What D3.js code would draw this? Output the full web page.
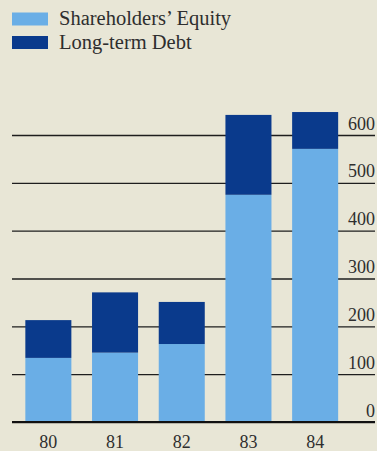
<!DOCTYPE html>
<html>
<head>
<meta charset="utf-8">
<script src="https://cdn.jsdelivr.net/npm/d3@7"></script>
<style>
  html, body { margin: 0; padding: 0; background: #e8e6d6; }
  svg { display: block; }
  text { font-family: "Liberation Serif", "DejaVu Serif", serif; fill: #2e2e2e; }
</style>
</head>
<body>
<svg id="chart" width="377" height="451"></svg>
<script>
// Capitalization by year, in millions
const years = ["80", "81", "82", "83", "84"];
const equity = [134, 145, 163, 475, 571];
const debt = [79, 126, 88, 167, 77];
const yTicks = [0, 100, 200, 300, 400, 500, 600];
const seriesNames = ["Shareholders\u2019 Equity", "Long-term Debt"];
const seriesColors = ["#6aaee6", "#0a3a8c"];

const svg = d3.select("#chart");
const W = 377;

const x = d3.scaleBand()
  .domain(years)
  .range([15, 348.5])
  .paddingInner(0.31)
  .paddingOuter(0.155);

const y = d3.scaleLinear()
  .domain([0, 600])
  .range([422, 135]);

// Gridlines with values sitting just above each line, right-aligned
const gridLeft = 12, gridRight = 375;
const axis = d3.axisRight(y)
  .tickValues(yTicks)
  .tickSize(gridRight - gridLeft)
  .tickFormat(d3.format("d"));

const ag = svg.append("g")
  .attr("transform", `translate(${gridLeft},0)`)
  .call(axis);
ag.select(".domain").remove();
ag.selectAll(".tick line")
  .attr("stroke", "#1e1e1e")
  .attr("stroke-width", 1.4);
ag.selectAll(".tick text")
  .attr("x", gridRight - gridLeft)
  .attr("dy", "-6")
  .attr("y", 0)
  .attr("text-anchor", "end")
  .attr("font-size", 18)
  .attr("font-family", "Liberation Serif, serif")
  .attr("fill", "#2e2e2e");

// Stacked bars
const stackData = years.map((yr, i) => ({ year: yr, equity: equity[i], debt: debt[i] }));
const stack = d3.stack().keys(["equity", "debt"]);
const layers = stack(stackData);

svg.append("g").selectAll("g")
  .data(layers)
  .join("g")
  .attr("fill", (d, i) => seriesColors[i])
  .selectAll("rect")
  .data(d => d)
  .join("rect")
  .attr("x", d => x(d.data.year))
  .attr("width", x.bandwidth())
  .attr("y", d => y(d[1]))
  .attr("height", d => y(d[0]) - y(d[1]));

// Baseline
svg.append("line")
  .attr("x1", gridLeft).attr("x2", gridRight)
  .attr("y1", y(0)).attr("y2", y(0))
  .attr("stroke", "#111")
  .attr("stroke-width", 2.2);

// Year labels
const xAxis = d3.axisBottom(x).tickSize(0).tickPadding(0);
const xg = svg.append("g")
  .attr("transform", `translate(0,${y(0)})`)
  .call(xAxis);
xg.select(".domain").remove();
xg.selectAll(".tick text")
  .attr("y", 25.5)
  .attr("dy", 0)
  .attr("font-size", 18)
  .attr("font-family", "Liberation Serif, serif")
  .attr("fill", "#2e2e2e");

// Legend
const legend = svg.append("g");
const legendRows = [19, 42.5];
seriesNames.forEach((name, i) => {
  legend.append("rect")
    .attr("x", 12).attr("y", legendRows[i] - 6.5)
    .attr("width", 36).attr("height", 13)
    .attr("fill", seriesColors[i]);
  legend.append("text")
    .attr("x", 59).attr("y", legendRows[i] + 6.3)
    .attr("font-size", 20.5)
    .text(name);
});
</script>
</body>
</html>
